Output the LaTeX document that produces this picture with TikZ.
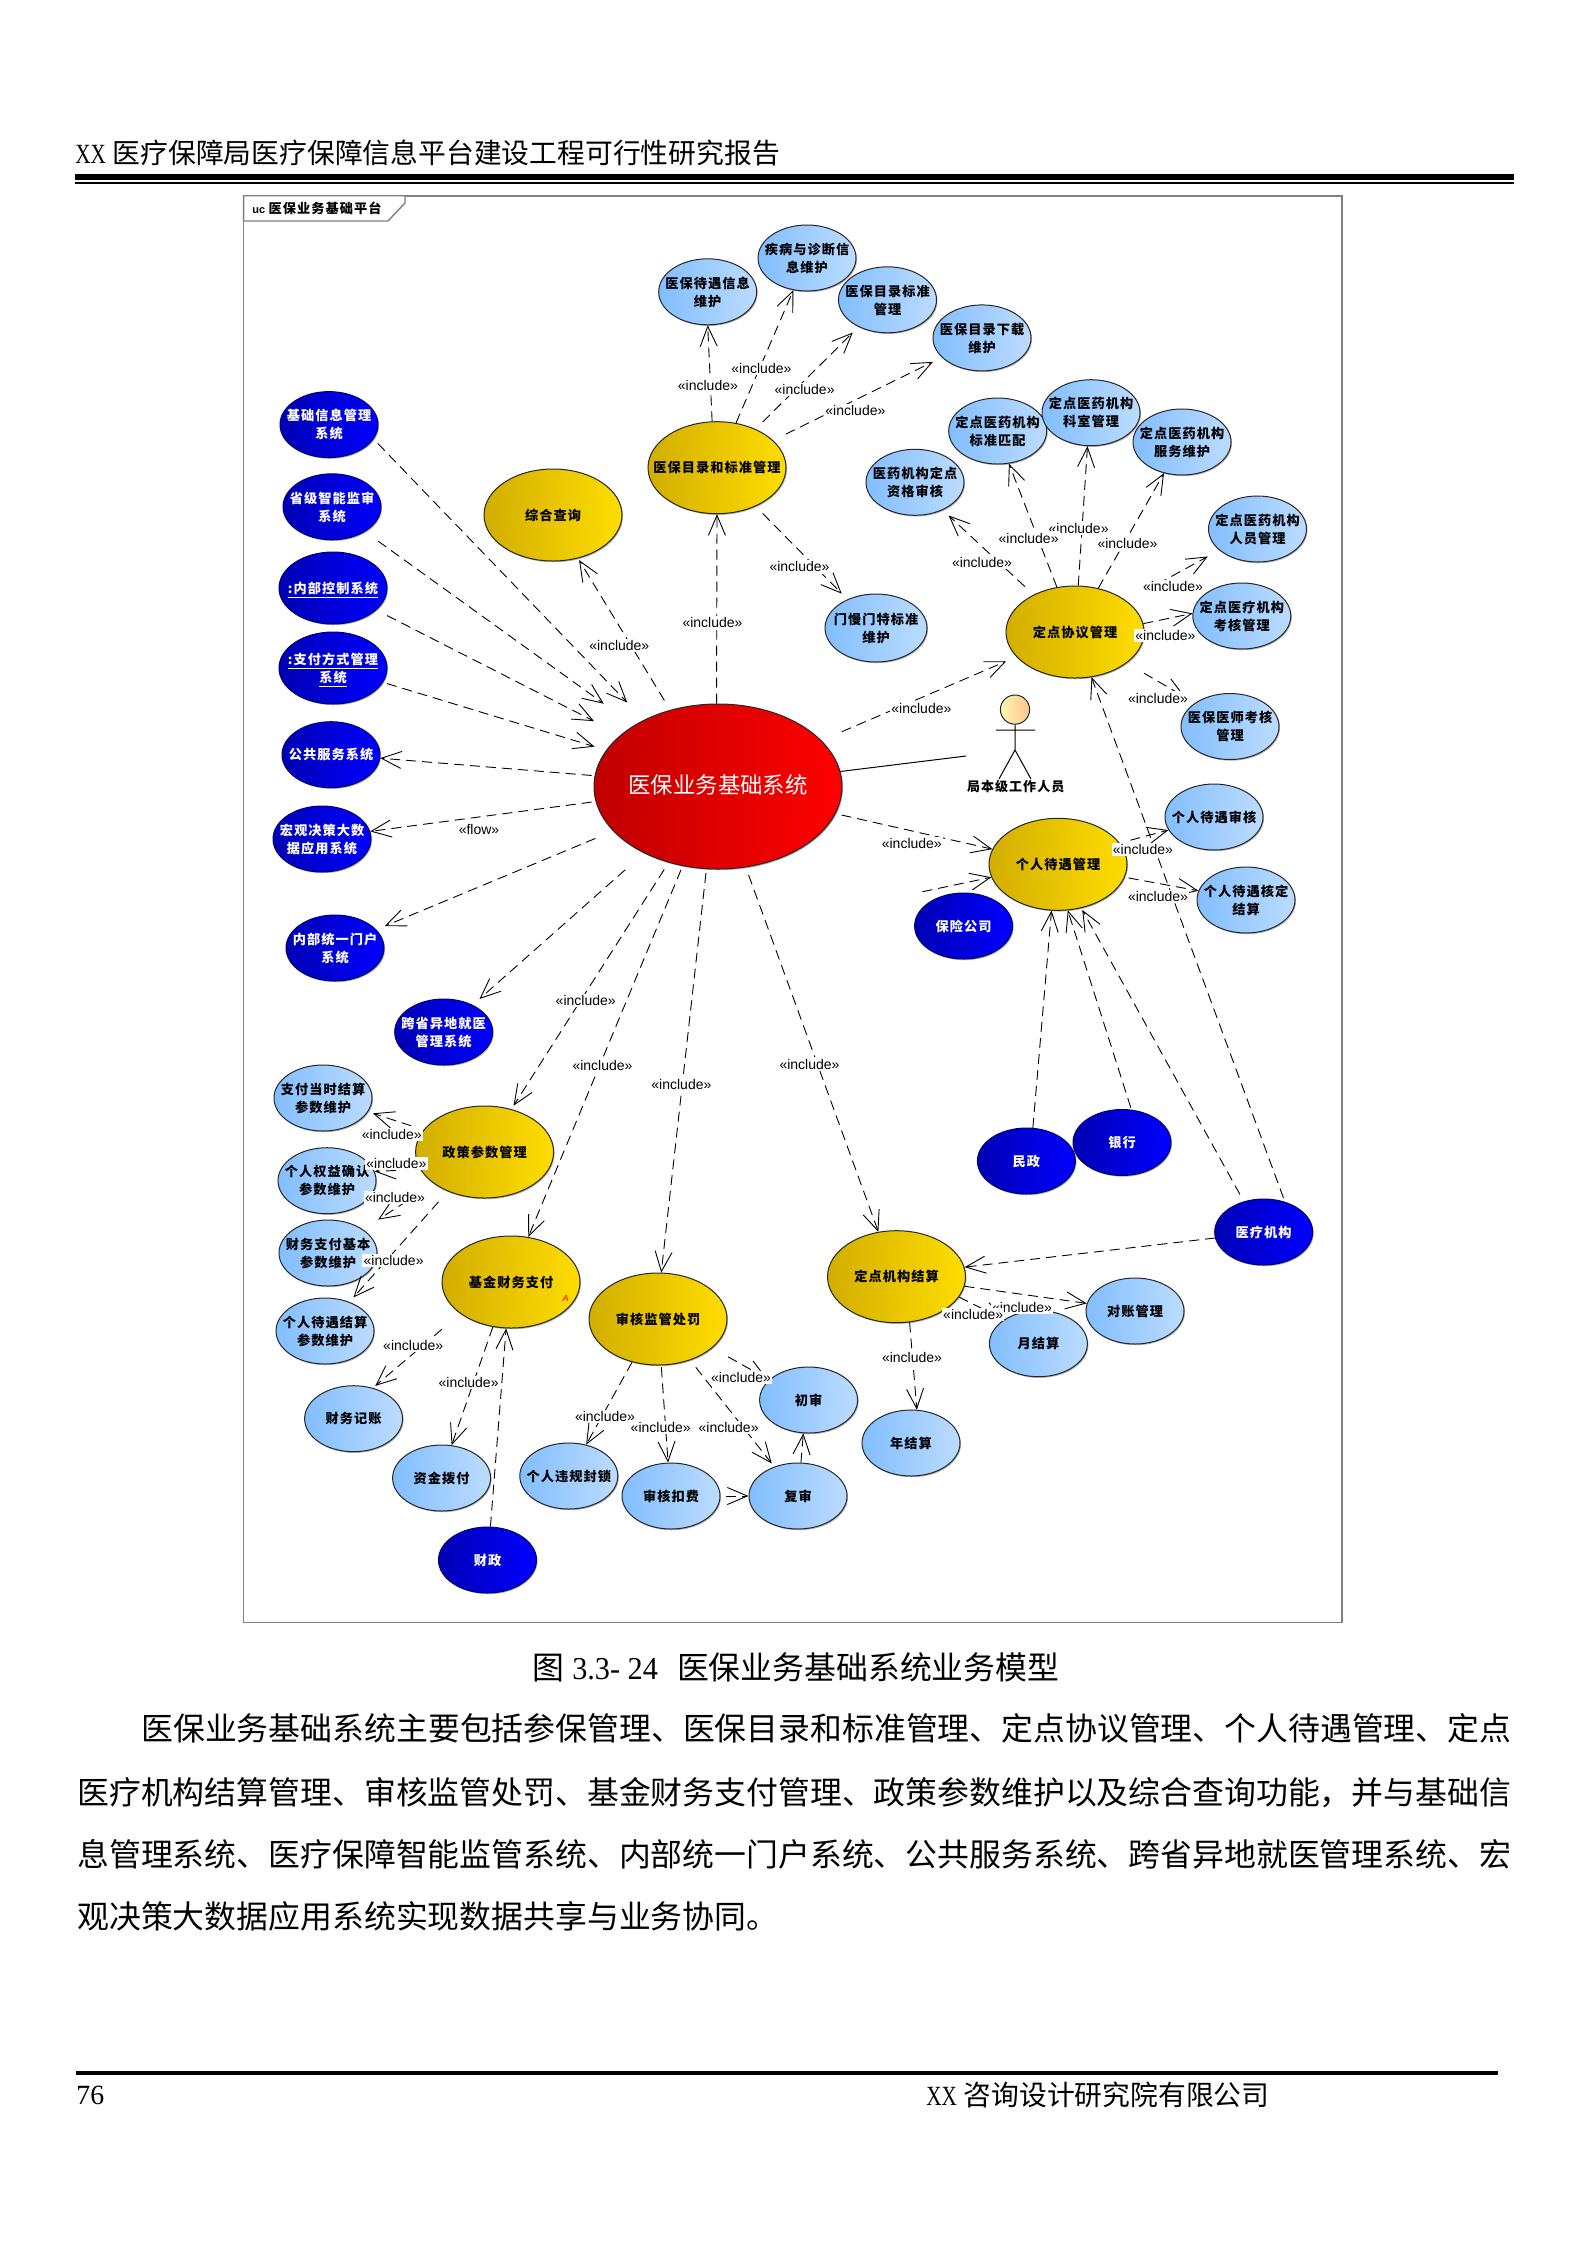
\documentclass[tikz,border=0pt]{standalone}
\usepackage{fontspec}
\setmainfont{Liberation Serif}
\newfontfamily\cjkf{Noto Sans CJK SC}
\newfontfamily\cjku[LetterSpace=8]{Noto Sans CJK SC}
\newfontfamily\labf{Liberation Sans}
\usetikzlibrary{arrows.meta}
\usetikzlibrary{shapes.geometric}
\usetikzlibrary{shadows}
\definecolor{UCYellowL}{HTML}{D2AE00}
\definecolor{UCYellowR}{HTML}{FFDD00}
\definecolor{UCSkyL}{HTML}{82BEFF}
\definecolor{UCSkyR}{HTML}{BCDCFF}
\definecolor{UCBlueL}{HTML}{0000B4}
\definecolor{UCBlueR}{HTML}{0000FF}
\definecolor{UCRedL}{HTML}{C00000}
\definecolor{UCRedR}{HTML}{FF0000}
\definecolor{UCFrame}{HTML}{808080}
\newcommand{\uct}[1]{\makebox[0pt]{\vbox{\kern1.6pt\hbox{\begin{tabular}{@{}c@{}}#1\end{tabular}}}}}
\tikzset{
  ucbase/.style={ellipse,draw=black!85,line width=0.5pt,inner sep=0pt,
    minimum width=49pt,minimum height=33pt,
    drop shadow={shadow xshift=0.5pt,shadow yshift=-0.6pt,opacity=.3,fill=black},
    font=\cjku\bfseries\fontsize{6.6}{9}\selectfont},
  ucsys/.style={ucbase,left color=UCBlueL,right color=UCBlueR,draw=UCBlueL!60!black,text=white},
  ucsub/.style={ucbase,left color=UCSkyL,right color=UCSkyR},
  ucmod/.style={ucbase,left color=UCYellowL,right color=UCYellowR,minimum width=69pt,minimum height=46pt},
  dep/.style={line width=0.45pt,dash pattern=on 5pt off 3pt,-{Straight Barb[length=10pt,width=8.5pt]}},
  lbl/.style={fill=white,inner xsep=0.6pt,inner ysep=0.8pt,font=\labf\fontsize{7}{8}\selectfont},
  page/.style={inner sep=0pt,anchor=west,font=\cjkf\fontsize{15.93}{18}\selectfont},
  head/.style={inner sep=0pt,anchor=west,font=\fontsize{13.9}{16}\selectfont}
}
\begin{document}
\begin{tikzpicture}[x=0.5pt,y=-0.5pt]
    \path[use as bounding box,fill=white] (0,0) rectangle (1588,2245);

    % Page furniture
    \node[head] (HD) at (75,153) {\scalebox{.76}[1]{XX}\hspace*{3.4pt}{\cjkf 医疗保障局医疗保障信息平台建设工程可行性研究报告}};
    \fill (75,174) rectangle (1514,180);
    \fill (75,181.7) rectangle (1514,184);
    \fill (76,2071) rectangle (1498,2075);
    \node[head] (PG) at (76,2095) {76};
    \node[head] (FT) at (926,2095) {\scalebox{.76}[1]{XX}\hspace*{3.4pt}{\cjkf 咨询设计研究院有限公司}};

    % Caption and body
    \node[page] (CP) at (532,1667) {图\hspace*{4pt}{\rmfamily\scalebox{.95}[1]{3.3- 24}}\hspace*{9.5pt}医保业务基础系统业务模型};
    \node[page] (T1) at (141,1728) {医保业务基础系统主要包括参保管理、医保目录和标准管理、定点协议管理、个人待遇管理、定点};
    \node[page] (T2) at (77,1793) {医疗机构结算管理、审核监管处罚、基金财务支付管理、政策参数维护以及综合查询功能，并与基础信};
    \node[page] (T3) at (77,1854) {息管理系统、医疗保障智能监管系统、内部统一门户系统、公共服务系统、跨省异地就医管理系统、宏};
    \node[page] (T4) at (77,1916) {观决策大数据应用系统实现数据共享与业务协同。};

    % Frame and tag
    \draw[UCFrame,line width=0.8pt] (243.6,195.7) rectangle (1342,1622.4);
    \draw[UCFrame,fill=white,line width=0.7pt] (243.6,195.7) -- (405,195.7) -- (405,203) -- (388,221) -- (243.6,221) -- cycle;
    \node[inner sep=0pt,anchor=west,font=\bfseries\fontsize{6.6}{9}\selectfont] (TAG) at (252,208.6) {{\labf\fontsize{5.5}{7}\selectfont uc} {\cjku 医保业务基础平台}};

    % External systems
    \node[ucsys] (JCXX) at (329,424.6) {\uct{基础信息管理\\系统}};
    \node[ucsys] (SJZN) at (332,506.8) {\uct{省级智能监审\\系统}};
    \node[ucsys,minimum width=54pt,minimum height=36pt] (NBKZ) at (333,588) {\uct{\underline{:内部控制系统}}};
    \node[ucsys,minimum width=54pt,minimum height=36pt] (ZFFS) at (333,668) {\uct{\underline{:支付方式管理}\\\underline{系统}}};
    \node[ucsys] (GGFW) at (331,754.7) {\uct{公共服务系统}};
    \node[ucsys] (HGJC) at (322,839) {\uct{宏观决策大数\\据应用系统}};
    \node[ucsys] (NBTY) at (335,948) {\uct{内部统一门户\\系统}};
    \node[ucsys] (KSYD) at (443.7,1032) {\uct{跨省异地就医\\管理系统}};
    \node[ucsys] (BXGS) at (963.6,926) {\uct{保险公司}};
    \node[ucsys] (MZ) at (1026.4,1161) {\uct{民政}};
    \node[ucsys] (YH) at (1122,1142.5) {\uct{银行}};
    \node[ucsys] (YLJG) at (1263.7,1232) {\uct{医疗机构}};
    \node[ucsys] (CZ) at (487.5,1560) {\uct{财政}};

    % Main system and modules
    \node[ucbase,left color=UCRedL,right color=UCRedR,minimum width=124pt,minimum height=82.5pt,
      text=white,font=\cjkf\fontsize{11.2}{13}\selectfont] (MAIN) at (718,786.5) {\uct{医保业务基础系统}};
    \node[ucmod] (ZHCX) at (553,515) {\uct{综合查询}};
    \node[ucmod] (MLGL) at (717,467.7) {\uct{医保目录和标准管理}};
    \node[ucmod] (DDXY) at (1075,632) {\uct{定点协议管理}};
    \node[ucmod] (GRDY) at (1058,864.3) {\uct{个人待遇管理}};
    \node[ucmod] (ZCCS) at (484.6,1152) {\uct{政策参数管理}};
    \node[ucmod] (JJZF) at (511,1282) {\uct{基金财务支付}};
    \node[ucmod] (SHJG) at (658,1319) {\uct{审核监管处罚}};
    \node[ucmod] (JGJS) at (896.5,1276.7) {\uct{定点机构结算}};
    \node[inner sep=0pt,text=red,font=\labf\itshape\fontsize{4.5}{5}\selectfont] (ATAG) at (565.7,1298.7) {A};

    % Catalogue use cases
    \node[ucsub] (DYXX) at (707.7,291.8) {\uct{医保待遇信息\\维护}};
    \node[ucsub] (JBZD) at (807,258) {\uct{疾病与诊断信\\息维护}};
    \node[ucsub] (MLBZ) at (887.5,299.8) {\uct{医保目录标准\\管理}};
    \node[ucsub] (MLXZ) at (982,337.9) {\uct{医保目录下载\\维护}};
    \node[ucsub,minimum width=51pt,minimum height=34pt] (MTBZ) at (876,628) {\uct{门慢门特标准\\维护}};

    % Agreement use cases
    \node[ucsub] (ZGSH) at (915,482.3) {\uct{医药机构定点\\资格审核}};
    \node[ucsub] (BZPP) at (997.7,431) {\uct{定点医药机构\\标准匹配}};
    \node[ucsub] (KSGL) at (1091,412.7) {\uct{定点医药机构\\科室管理}};
    \node[ucsub] (FWWH) at (1182,442) {\uct{定点医药机构\\服务维护}};
    \node[ucsub] (RYGL) at (1257.5,529) {\uct{定点医药机构\\人员管理}};
    \node[ucsub] (KHGL) at (1241.8,616) {\uct{定点医疗机构\\考核管理}};
    \node[ucsub] (YSKH) at (1230,726.5) {\uct{医保医师考核\\管理}};

    % Benefit use cases
    \node[ucsub] (DYSH) at (1214,817) {\uct{个人待遇审核}};
    \node[ucsub] (HDJS) at (1246,900) {\uct{个人待遇核定\\结算}};

    % Parameter use cases
    \node[ucsub] (DSJS) at (323,1098) {\uct{支付当时结算\\参数维护}};
    \node[ucsub] (QYQR) at (327,1180.7) {\uct{个人权益确认\\参数维护}};
    \node[ucsub] (ZFJB) at (328,1253) {\uct{财务支付基本\\参数维护}};
    \node[ucsub] (DYJS) at (325,1331) {\uct{个人待遇结算\\参数维护}};

    % Fund, audit and settlement use cases
    \node[ucsub] (CWJZ) at (353.6,1418.7) {\uct{财务记账}};
    \node[ucsub] (ZJBF) at (441.6,1478) {\uct{资金拨付}};
    \node[ucsub] (WGFS) at (568.8,1476) {\uct{个人违规封锁}};
    \node[ucsub] (SHKF) at (671,1496) {\uct{审核扣费}};
    \node[ucsub] (FS) at (798,1496) {\uct{复审}};
    \node[ucsub] (CS) at (808.6,1400) {\uct{初审}};
    \node[ucsub] (NJS) at (911,1443) {\uct{年结算}};
    \node[ucsub] (YJS) at (1038.4,1343.7) {\uct{月结算}};
    \node[ucsub] (DZGL) at (1135,1311) {\uct{对账管理}};

    % Actor
    \node[circle,draw=black!85,line width=0.5pt,left color=UCYellowR!30!white,right color=orange!45!white,
      minimum size=14.6pt,inner sep=0pt] (HEAD) at (1015,709.6) {};
    \coordinate (ARML) at (996,730);
    \coordinate (ARMR) at (1035,730);
    \coordinate (HIP) at (1015,750);
    \coordinate (FOOTL) at (999,779);
    \coordinate (FOOTR) at (1031,779);
    \coordinate (ACT) at (966,756);
    \coordinate (BXS) at (922.5,891.7);
    \draw[line width=0.5pt] (HEAD) -- (HIP) -- (FOOTL) (HIP) -- (FOOTR) (ARML) -- (ARMR);
    \node[inner sep=0pt,font=\cjku\bfseries\fontsize{6.5}{9}\selectfont] (ACTN) at (1015.7,787) {局本级工作人员};
    \draw[line width=0.5pt] (MAIN.7) -- (ACT);

    % Into the main system
    \draw[dep,shorten <=3pt,shorten >=12pt] (JCXX.-18) -- (MAIN.138);
    \draw[dep,shorten <=8pt,shorten >=18.5pt] (SJZN.-37) -- (MAIN.144);
    \draw[dep,shorten <=6pt,shorten >=15pt] (NBKZ.-27) -- (MAIN.152);
    \draw[dep,shorten <=2pt,shorten >=6pt] (ZFFS.-16) -- (MAIN.162);

    % Out of the main system
    \draw[dep,shorten <=1.5pt] (MAIN.175) -- (GGFW.-4);
    \draw[dep,shorten <=2pt] (MAIN.187) -- (HGJC.9);
    \draw[dep,shorten <=9.5pt,shorten >=4.5pt] (MAIN.203) -- (NBTY.24);
    \draw[dep,shorten <=12.5pt,shorten >=4.5pt] (MAIN.222) -- (KSYD.43);
    \draw[dep,shorten <=4pt,shorten >=2pt] (MAIN.237) -- (ZCCS.58);
    \draw[dep,shorten <=2pt] (MAIN.246) -- (JJZF.69);
    \draw[dep,shorten <=2pt] (MAIN.262) -- (SHJG.86);
    \draw[dep,shorten <=4pt] (MAIN.-71) -- (JGJS.112);
    \draw[dep,shorten <=5.5pt,shorten >=1pt] (MAIN.122) -- (ZHCX.-60);
    \draw[dep] (MAIN.91) -- (MLGL.-90);
    \draw[dep,shorten <=11pt,shorten >=5.5pt] (MAIN.24) -- (DDXY.-157);
    \draw[dep,shorten <=3pt] (MAIN.-13) -- (GRDY.167);

    % Catalogue
    \draw[dep] (MLGL.96) -- (DYXX.-90);
    \draw[dep] (MLGL.67) -- (JBZD.-113);
    \draw[dep,shorten <=5pt,shorten >=4pt] (MLGL.45) -- (MLBZ.-137);
    \draw[dep,shorten <=7pt,shorten >=5pt] (MLGL.26) -- (MLXZ.-154);
    \draw[dep,shorten <=5pt,shorten >=4pt] (MLGL.-45) -- (MTBZ.135);

    % Agreement
    \draw[dep,shorten <=6pt,shorten >=4pt] (DDXY.138) -- (ZGSH.-45);
    \draw[dep] (DDXY.112) -- (BZPP.-71);
    \draw[dep] (DDXY.86) -- (KSGL.-96);
    \draw[dep] (DDXY.62) -- (FWWH.-120);
    \draw[dep,shorten <=9.5pt,shorten >=6.5pt] (DDXY.31) -- (RYGL.-151);
    \draw[dep] (DDXY.7) -- (KHGL.177);
    \draw[dep,shorten <=10pt,shorten >=5.8pt] (DDXY.-31) -- (YSKH.146);
    \draw[dep,shorten <=2pt] (YLJG.55) -- (DDXY.-70);

    % Benefit
    \draw[dep,shorten <=4pt,shorten >=1pt] (YLJG.123) -- (GRDY.-62);
    \draw[dep,shorten <=1pt] (YH.74) -- (GRDY.-78);
    \draw[dep] (MZ.79) -- (GRDY.-98);
    \draw[dep] (BXS) -- (GRDY.-169);
    \draw[dep,shorten <=5.5pt] (GRDY.19) -- (DYSH.-164);
    \draw[dep,shorten <=2pt] (GRDY.-11) -- (HDJS.169);

    % Settlement
    \draw[dep] (YLJG.187) -- (JGJS.8);
    \draw[dep] (JGJS.-8) -- (DZGL.171);
    \draw[dep] (JGJS.-18) -- (YJS.145);
    \draw[dep] (JGJS.-74) -- (NJS.80);

    % Parameters
    \draw[dep,shorten <=6.5pt,shorten >=2.5pt] (ZCCS.160) -- (DSJS.-17);
    \draw[dep,shorten <=12pt] (ZCCS.195) -- (QYQR.11);
    \draw[dep,shorten <=8pt,shorten >=9pt] (ZCCS.212) -- (ZFJB.34);
    \draw[dep,shorten <=7pt,shorten >=3pt] (ZCCS.227) -- (DYJS.50);

    % Fund
    \draw[dep,shorten <=12pt,shorten >=1.5pt] (JJZF.212) -- (CWJZ.58);
    \draw[dep] (JJZF.248) -- (ZJBF.73);
    \draw[dep] (CZ.85) -- (JJZF.-96);

    % Audit
    \draw[dep] (SHJG.239) -- (WGFS.61);
    \draw[dep,shorten <=1pt] (SHJG.-86) -- (SHKF.95);
    \draw[dep,shorten <=4.5pt,shorten >=2pt] (SHJG.-52) -- (FS.129);
    \draw[dep,shorten <=9pt,shorten >=1pt] (SHJG.-28) -- (CS.153);
    \draw[dep] (FS.85) -- (CS.-99);
    \draw[dep,shorten <=2.8pt] (SHKF.0) -- (FS.180);

    % Connector labels
    \begin{scope}[every node/.style={lbl}]
      \node (L01) at (707.9,385.4) {«include»};
      \node (L02) at (761.4,368.2) {«include»};
      \node (L03) at (804.6,389.3) {«include»};
      \node (L04) at (855.4,410.4) {«include»};
      \node (L05) at (799.5,566.8) {«include»};
      \node (L06) at (619.3,645.4) {«include»};
      \node (L07) at (712.5,622.9) {«include»};
      \node (L08) at (982,562.5) {«include»};
      \node (L10) at (1078.6,528.2) {«include»};
      \node (L09) at (1028.6,538.2) {«include»};
      \node (L11) at (1127.5,543.6) {«include»};
      \node (L12) at (1173,586.4) {«include»};
      \node (L13) at (1165.4,635.4) {«include»};
      \node (L14) at (1158,698.2) {«include»};
      \node (L15) at (921.4,708.2) {«include»};
      \node (FLW) at (479,829.3) {«flow»};
      \node (L16) at (585.7,1000.3) {«include»};
      \node (L17) at (602.5,1065.7) {«include»};
      \node (L18) at (681.4,1084.3) {«include»};
      \node (L19) at (809.5,1064) {«include»};
      \node (L20) at (391.8,1134.3) {«include»};
      \node (L21) at (396.4,1163.3) {«include»};
      \node (L22) at (395,1197.3) {«include»};
      \node (L23) at (393.6,1260.7) {«include»};
      \node (L24) at (413.2,1345.7) {«include»};
      \node (L25) at (468.6,1382.3) {«include»};
      \node (L26) at (605,1416.7) {«include»};
      \node (L27) at (660.7,1427.3) {«include»};
      \node (L28) at (728.6,1427.3) {«include»};
      \node (L29) at (741,1377.3) {«include»};
      \node (L30) at (911.8,843.3) {«include»};
      \node (L31) at (1142.9,849.3) {«include»};
      \node (L32) at (1158,896.7) {«include»};
      \node (L34) at (1022,1307.7) {«include»};
      \node (L33) at (973.2,1314.3) {«include»};
      \node (L35) at (912,1357.7) {«include»};
    \end{scope}
\end{tikzpicture}
\end{document}
